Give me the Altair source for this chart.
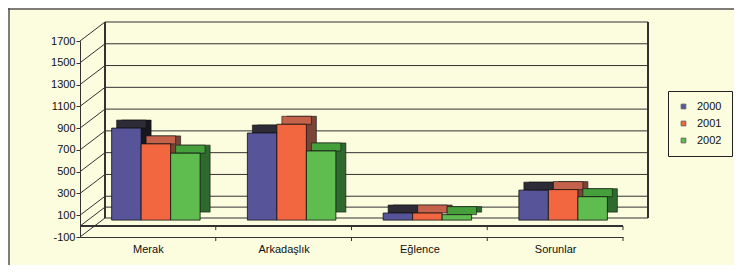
import altair as alt
import pandas as pd

categories = ["Merak", "Arkadaşlık", "Eğlence", "Sorunlar"]
years = ["2000", "2001", "2002"]
values_2000 = [845, 800, 65, 275]
values_2001 = [700, 880, 65, 280]
values_2002 = [615, 635, 50, 215]
y_ticks = [-100, 100, 300, 500, 700, 900, 1100, 1300, 1500, 1700]

front_colors = ["#58549a", "#f2673f", "#5fbd4f"]
top_colors = ["#2c2b36", "#c4624c", "#45a03c"]
side_colors = ["#17171f", "#7a4536", "#2e6a2e"]

FONT = "Liberation Sans"
BG = "#fcfcdf"
LINE = "#333333"

# depth geometry (pixels)
DX, DY = 25, -19        # full floor depth
BX, BY = 8, -6          # bar front plane
SX, SY = 10, -8         # bar depth

series = [values_2000, values_2001, values_2002]
bw = 29.5 / 135.75
rows = []
for i, c in enumerate(categories):
    for j, y in enumerate(years):
        center = i + 0.5 + (j - 1) * bw
        rows.append({"cat": c, "year": y, "value": series[j][i],
                     "xl": center - bw / 2, "xr": center + bw / 2,
                     "top": top_colors[j], "side": side_colors[j]})
df = pd.DataFrame(rows)
ticks_df = pd.DataFrame({"v": y_ticks + [0]})
bounds_df = pd.DataFrame({"b": [1, 2, 3, 4]})

ys = alt.Scale(domain=[-100, 1700], nice=False, zero=False)
xs = alt.Scale(domain=[0, 4], nice=False, zero=False)
label_expr = "[" + ",".join("'%s'" % c for c in categories) + "][floor(datum.value)]"
yaxis = alt.Axis(values=y_ticks, title=None, grid=False, tickSize=4, labelPadding=1,
                 domainColor=LINE, tickColor=LINE, labelColor="#111", labelFontSize=11,
                 labelFont=FONT, labelExpr="'' + datum.value")
xaxis = alt.Axis(values=[0.5, 1.5, 2.5, 3.5], labelExpr=label_expr, title=None, grid=False,
                 ticks=False, domainColor=LINE, labelColor="#111", labelFontSize=11,
                 labelFont=FONT, labelPadding=6)


def Y(field=None, datum=None):
    if datum is not None:
        return alt.Y(datum=datum, scale=ys, axis=yaxis)
    return alt.Y(field, scale=ys, axis=yaxis)


def X(field):
    return alt.X(field, scale=xs, axis=xaxis)


tk = alt.Chart(ticks_df)
diag = tk.mark_rule(color=LINE, strokeWidth=1, y2Offset=DY).encode(
    x=alt.value(0), x2=alt.value(DX), y=Y("v:Q"), y2="v:Q")
grid = tk.mark_rule(color=LINE, strokeWidth=1, yOffset=DY).encode(
    x=alt.value(DX), x2=alt.value(543 + DX), y=Y("v:Q"))
wall_l = tk.mark_rule(color=LINE, strokeWidth=1, yOffset=DY, y2Offset=DY).encode(
    x=alt.value(DX), y=Y(datum=1700), y2=alt.Y2(datum=-100))
wall_r = tk.mark_rule(color=LINE, strokeWidth=1, yOffset=DY, y2Offset=DY).encode(
    x=alt.value(543 + DX), y=Y(datum=1700), y2=alt.Y2(datum=-100))
floor = tk.mark_rule(color=LINE, strokeWidth=1).encode(
    x=alt.value(0), x2=alt.value(543), y=Y(datum=0))

bd = alt.Chart(bounds_df)
tick0 = bd.mark_rule(color=LINE, strokeWidth=1, y2Offset=4).encode(
    x=X("b:Q"), y=Y(datum=0), y2=alt.Y2(datum=0))
tick1 = bd.mark_rule(color=LINE, strokeWidth=1, y2Offset=4).encode(
    x=X("b:Q"), y=Y(datum=-100), y2=alt.Y2(datum=-100))

bars = alt.Chart(df)
side = bars.mark_bar(stroke="#111", strokeWidth=0.6,
                     xOffset=BX + SX, x2Offset=BX + SX, yOffset=BY + SY, y2Offset=BY + SY).encode(
    x=X("xl:Q"), x2="xr:Q", y=Y("value:Q"), y2=alt.Y2(datum=0),
    color=alt.Color("side:N", scale=None))
top = bars.mark_bar(stroke="#111", strokeWidth=0.6,
                    xOffset=BX + SX / 2, x2Offset=BX + SX / 2, yOffset=BY + SY, y2Offset=BY).encode(
    x=X("xl:Q"), x2="xr:Q", y=Y("value:Q"), y2="value:Q",
    color=alt.Color("top:N", scale=None))
front = bars.mark_bar(stroke="#111", strokeWidth=0.8,
                      xOffset=BX, x2Offset=BX, yOffset=BY, y2Offset=BY).encode(
    x=X("xl:Q"), x2="xr:Q", y=Y("value:Q"), y2=alt.Y2(datum=0),
    color=alt.Color("year:N", scale=alt.Scale(domain=years, range=front_colors),
                    legend=alt.Legend(title=None, orient="none", legendX=588, legendY=50,
                                      strokeColor="#222", padding=10, symbolType="square",
                                      symbolSize=22, symbolStrokeColor="#666",
                                      symbolStrokeWidth=1, labelFontSize=11, labelFont=FONT,
                                      labelColor="#111", rowPadding=5, labelOffset=8)))

border_top = alt.Chart(pd.DataFrame({"a": [0]})).mark_rule(color="#555", strokeWidth=1.5).encode(
    x=alt.value(-72), x2=alt.value(654), y=alt.value(-32))
border_left = alt.Chart(pd.DataFrame({"a": [0]})).mark_rule(color="#555", strokeWidth=1.5).encode(
    x=alt.value(-71), y=alt.value(-33), y2=alt.value(230))

chart = alt.layer(border_top, border_left, grid, wall_l, wall_r, diag, floor,
                  tick0, tick1, side, top, front).resolve_scale(color="independent").properties(
    width=543, height=196,
    autosize=alt.AutoSizeParams(type="none"),
    padding={"left": 72, "top": 33, "right": 111, "bottom": 28},
    background=BG,
).configure_view(stroke=None)

chart.save("out.html", embed_options={"renderer": "svg", "actions": False})
